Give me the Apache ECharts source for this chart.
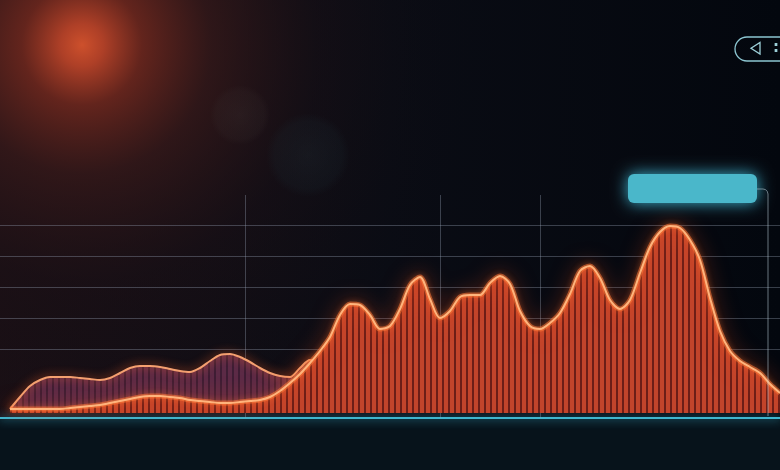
<!DOCTYPE html>
<html>
<head>
<meta charset="utf-8">
<script src="https://cdn.jsdelivr.net/npm/echarts@6/dist/echarts.min.js"></script>
<style>
html,body{margin:0;padding:0;background:#050a12;}
#chart{width:780px;height:470px;}
</style>
</head>
<body>
<div id="chart"></div>
<script>
// time positions shared by both series
var timeSteps = [10,20,30,40,50,60,70,80,90,100,110,120,130,140,150,160,170,180,190,200,210,220,230,240,250,260,270,280,290,300,310,320,330,340,350,360,370,380,390,400,410,420,430,440,450,460,470,480,490,500,510,520,530,540,550,560,570,580,590,600,610,620,630,640,650,660,670,680,690,700,710,720,730,740,750,760,770,780];

// back (violet) series, heights above baseline (first 33 time steps)
var seriesBack = [4,16,27,33,36,36,36,35,34,33,35,40,45,47,47,46,44,42,41,45,52,58,59,56,51,45,40,37,36,45,53,51,43];

// front (orange) series, heights above baseline
var seriesFront = [4,4,4,4,4,4,5,6,7,8,10,12,14,16,17,17,16,15,13,12,11,10,10,11,12,13,16,22,30,39,50,62,76,98,109,108,98,84,87,104,128,136,114,95,102,116,118,118,130,137,129,102,87,84,90,100,119,142,147,135,113,104,113,140,166,181,187,185,173,153,115,82,62,52,46,40,29,20];

var gridLevels = [188, 157, 126, 95, 64];
var gridVerticals = [245, 440, 540];

function pairs(xs, ys) { return ys.map(function (y, i) { return [xs[i], y]; }); }
var backData = pairs(timeSteps, seriesBack);
var frontData = pairs(timeSteps, seriesFront);

function stripes(w, bar, c1, c2) {
  var cv = document.createElement('canvas');
  cv.width = w; cv.height = 4;
  var ctx = cv.getContext('2d');
  ctx.fillStyle = c1; ctx.fillRect(0, 0, w, 4);
  ctx.fillStyle = c2; ctx.fillRect(bar, 0, w - bar, 4);
  return cv;
}

var markLines = [];
gridLevels.forEach(function (v) {
  markLines.push([{ coord: [0, v] }, { coord: [780, v] }]);
});
gridVerticals.forEach(function (x) {
  markLines.push([{ coord: [x, 218] }, { coord: [x, -5] }]);
});

var chart = echarts.init(document.getElementById('chart'), null, { renderer: 'canvas' });
var RG = echarts.graphic.RadialGradient;
var LG = echarts.graphic.LinearGradient;

chart.setOption({
  animation: false,
  backgroundColor: '#050a12',
  grid: { left: 0, right: 0, top: 0, height: 418 },
  xAxis: {
    type: 'value', min: 0, max: 780,
    axisLabel: { show: false }, axisTick: { show: false }, splitLine: { show: false },
    axisLine: { show: true, onZero: false, lineStyle: { color: '#3fb6cf', width: 2, shadowBlur: 10, shadowColor: 'rgba(60,190,220,1)' } }
  },
  yAxis: {
    type: 'value', min: -5, max: 413,
    axisLabel: { show: false }, axisTick: { show: false }, axisLine: { show: false }, splitLine: { show: false }
  },
  graphic: [
    { type: 'rect', z: -20, silent: true, shape: { x: 0, y: 0, width: 780, height: 470 }, style: { fill: new LG(0, 0, 1, 0, [{ offset: 0, color: '#1c1015' }, { offset: 0.5, color: '#0a0c14' }, { offset: 1, color: '#03070e' }]) } },
    { type: 'circle', z: -19, silent: true, shape: { cx: 82, cy: 45, r: 430 }, style: { fill: new RG(0.5, 0.5, 0.5, [
      { offset: 0, color: 'rgba(205,80,44,1)' },
      { offset: 0.05, color: 'rgba(182,66,40,0.95)' },
      { offset: 0.14, color: 'rgba(112,40,30,0.85)' },
      { offset: 0.3, color: 'rgba(58,26,26,0.7)' },
      { offset: 0.55, color: 'rgba(26,16,22,0.45)' },
      { offset: 1, color: 'rgba(5,10,18,0)' }
    ]) } },
    { type: 'circle', z: -18, silent: true, shape: { cx: 240, cy: 115, r: 30 }, style: { fill: new RG(0.5, 0.5, 0.5, [{ offset: 0, color: 'rgba(70,60,60,0.22)' }, { offset: 0.8, color: 'rgba(60,50,50,0.16)' }, { offset: 1, color: 'rgba(60,50,50,0)' }]) } },
    { type: 'circle', z: -18, silent: true, shape: { cx: 308, cy: 155, r: 42 }, style: { fill: new RG(0.5, 0.5, 0.5, [{ offset: 0, color: 'rgba(40,60,66,0.22)' }, { offset: 0.8, color: 'rgba(30,50,58,0.16)' }, { offset: 1, color: 'rgba(30,50,58,0)' }]) } },
    { type: 'rect', z: -17, silent: true, shape: { x: 0, y: 419, width: 780, height: 51 }, style: { fill: '#07131b' } },
    // callout box and connector
    { type: 'rect', z: 50, silent: true, shape: { x: 628, y: 174, width: 129, height: 29, r: 6 }, style: { fill: '#4ab7ca', shadowBlur: 16, shadowColor: 'rgba(70,200,230,0.9)' } },
    { type: 'polyline', z: 50, silent: true, shape: { points: [[757, 189], [763, 189], [765.5, 189.6], [767.2, 191.3], [768, 194], [768, 416]] }, style: { fill: null, stroke: 'rgba(190,210,220,0.55)', lineWidth: 1 } },
    // top-right pill control
    { type: 'rect', z: 50, silent: true, shape: { x: 735, y: 37, width: 80, height: 24, r: 12 }, style: { fill: null, stroke: '#8cc6d1', lineWidth: 1.3 } },
    { type: 'polygon', z: 50, silent: true, shape: { points: [[760, 42.5], [760, 54], [751, 48.2]] }, style: { fill: null, stroke: '#9ccfd8', lineWidth: 1.3 } },
    { type: 'text', z: 50, silent: true, style: { x: 776, y: 48, text: ':', fill: '#9ccfd8', font: 'bold 15px "DejaVu Sans"', align: 'center', verticalAlign: 'middle' } }
  ],
  series: [
    {
      type: 'line', z: 2, data: backData, smooth: 0.3, showSymbol: false, symbol: 'none', silent: true,
      lineStyle: { color: '#f4a070', width: 2, shadowBlur: 10, shadowColor: 'rgba(255,100,40,0.9)' },
      areaStyle: { color: { image: stripes(6, 4, '#5c2a46', '#3e1d34'), repeat: 'repeat' }, opacity: 1 },
      markLine: {
        z: 1, silent: true, symbol: ['none', 'none'], label: { show: false },
        lineStyle: { color: 'rgba(150,160,180,0.36)', width: 1, type: 'solid' },
        data: markLines
      }
    },
    {
      type: 'line', z: 3, data: frontData, smooth: 0.3, showSymbol: false, symbol: 'none', silent: true,
      lineStyle: { color: '#ff7a3a', width: 5, opacity: 0.55, shadowBlur: 20, shadowColor: 'rgba(255,80,25,1)' },
      areaStyle: { color: { image: stripes(6, 4, '#c2442b', '#6c1e17'), repeat: 'repeat' }, opacity: 1 }
    },
    {
      type: 'line', z: 4, data: frontData, smooth: 0.3, showSymbol: false, symbol: 'none', silent: true,
      lineStyle: { color: '#ffb47c', width: 2, shadowBlur: 6, shadowColor: 'rgba(255,120,50,0.9)' }
    }
  ]
});
</script>
</body>
</html>
